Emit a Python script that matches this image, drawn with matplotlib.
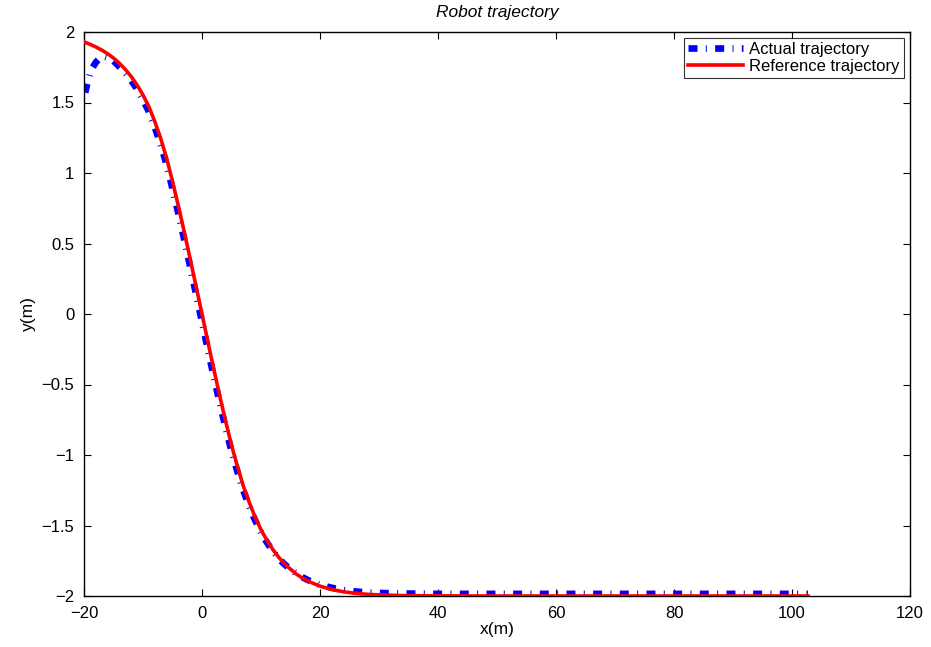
import matplotlib
matplotlib.use("Agg")
import matplotlib.pyplot as plt

plt.rcParams['font.family'] = ['Liberation Sans', 'DejaVu Sans']

# Reference trajectory
ref_x = [-20, -19, -18, -17, -16, -15, -14, -13, -12, -11, -10, -9, -8, -7,
         -6, -5, -4, -3, -2, -1, 0, 1, 2, 3, 4, 5, 6, 7, 8, 9, 10, 11, 12,
         13, 14, 15, 16, 17, 18, 19, 20, 22, 24, 26, 28, 30, 34, 40, 50, 102.7]
ref_y = [1.93, 1.913, 1.894, 1.872, 1.846, 1.815, 1.778, 1.735, 1.684, 1.624,
         1.553, 1.47, 1.365, 1.245, 1.105, 0.94, 0.765, 0.58, 0.39, 0.195,
         0.0, -0.198, -0.392, -0.58, -0.76, -0.93, -1.08, -1.22, -1.335,
         -1.44, -1.53, -1.605, -1.67, -1.725, -1.772, -1.81, -1.845, -1.872,
         -1.895, -1.913, -1.93, -1.954, -1.97, -1.981, -1.988, -1.992,
         -1.997, -1.999, -2.0, -2.0]

# Actual trajectory
act_x = [-19.8, -19.4, -19.0, -18.5, -18.0, -17.3, -16.6, -15.8, -15.0,
         -14.2, -13.2, -12.2, -11.2, -10.2, -9.2, -8.2, -7.2, -6.2, -5.2,
         -4.2, -3.2, -2.2, -1.2, -0.2, 0.8, 1.8, 2.8, 3.8, 4.8, 5.8, 6.8,
         7.8, 8.8, 9.8, 10.8, 11.8, 12.8, 13.8, 14.8, 15.8, 16.8, 17.8,
         18.8, 19.8, 21.8, 23.8, 25.8, 28, 32, 40, 102.7]
act_y = [1.57, 1.64, 1.70, 1.75, 1.785, 1.815, 1.826, 1.815, 1.795,
         1.762, 1.72, 1.668, 1.607, 1.535, 1.452, 1.347, 1.227, 1.087, 0.922,
         0.747, 0.562, 0.372, 0.177, -0.018, -0.215, -0.408, -0.595, -0.773,
         -0.94, -1.09, -1.228, -1.342, -1.445, -1.533, -1.607, -1.67, -1.724,
         -1.768, -1.805, -1.836, -1.862, -1.884, -1.902, -1.917, -1.94,
         -1.956, -1.967, -1.975, -1.981, -1.985, -1.985]

x_ticks = [-20, 0, 20, 40, 60, 80, 100, 120]
y_ticks = [-2, -1.5, -1, -0.5, 0, 0.5, 1, 1.5, 2]

fig = plt.figure(figsize=(9.31, 6.47), dpi=100)
ax = fig.add_axes([84/931, 51/647, 826/931, 564/647])

ax.plot(act_x, act_y, color='#0000ff', linewidth=4.8,
        linestyle=(0, (1.35, 1.25, 0.15, 1.25)), dash_capstyle='butt',
        solid_capstyle='butt', label='Actual trajectory', zorder=2)
ax.plot(ref_x, ref_y, color='#ff0000', linewidth=2.6,
        label='Reference trajectory', zorder=3)

ax.set_xlim(-20, 120)
ax.set_ylim(-2, 2)
ax.set_xticks(x_ticks)
ax.set_yticks(y_ticks)
ax.set_xticklabels([str(v).replace('-', '\u2212') for v in x_ticks])
ax.set_yticklabels([('%g' % v).replace('-', '\u2212') for v in y_ticks])
ax.tick_params(direction='in', top=True, right=True, length=5, width=0.8,
               labelsize=12, pad=7, colors='black')
for s in ax.spines.values():
    s.set_linewidth(1.0)

ax.set_xlabel('x(m)', fontsize=12.5, labelpad=1)
ax.set_ylabel('y(m)', fontsize=12.5, labelpad=4)
ax.set_title('Robot trajectory', fontsize=12.5, style='italic', pad=11)

leg = ax.legend(loc='upper right', fontsize=12, frameon=True, fancybox=False,
                edgecolor='black', borderaxespad=0.35, handlelength=3.3,
                borderpad=0.25, labelspacing=0.1, handletextpad=0.4)
leg.get_frame().set_linewidth(0.8)

fig.savefig('out.png', dpi=100)
